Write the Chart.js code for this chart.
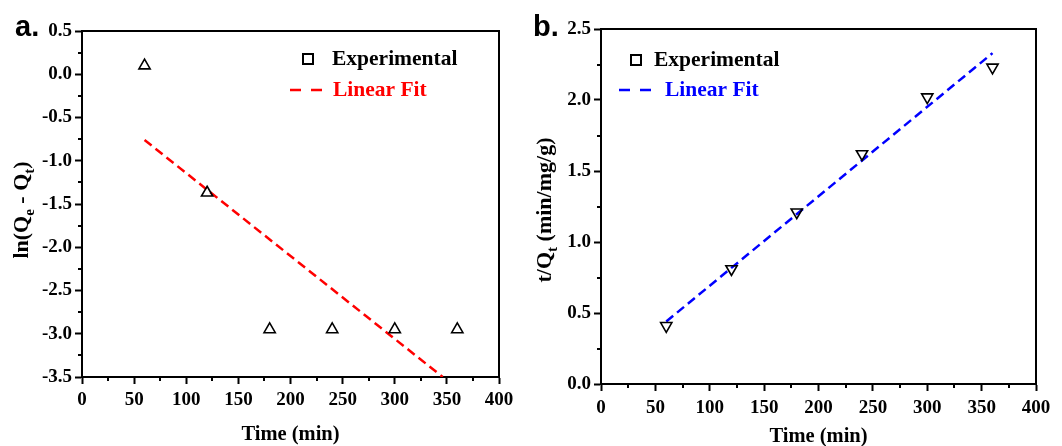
<!DOCTYPE html>
<html>
<head>
<meta charset="utf-8">
<script src="https://cdn.jsdelivr.net/npm/chart.js@4"></script>
<style>
  body { margin: 0; background: #fff; width: 1062px; height: 446px; overflow: hidden; position: relative; }
  .panel { position: absolute; top: 0; width: 531px; height: 446px; }
</style>
</head>
<body>
<div class="panel" style="left:0"><canvas id="chartA" width="531" height="446"></canvas></div>
<div class="panel" style="left:531px"><canvas id="chartB" width="531" height="446"></canvas></div>
<script>
// data
var timeMin = [60, 120, 180, 240, 300, 360];
var lnQeQt = [0.10, -1.37, -2.95, -2.95, -2.95, -2.95];   // panel a, pseudo-first-order
var tOverQt = [0.41, 0.81, 1.21, 1.62, 2.02, 2.23];       // panel b, pseudo-second-order
var fitATime = [60, 346];
var fitAValues = [-0.76, -3.5];
var fitBTime = [60, 360];
var fitBValues = [0.44, 2.33];
var seriesLabels = ['Experimental', 'Linear Fit'];

var serif = "'Liberation Serif', 'Times New Roman', serif";

function pairs(xs, ys) {
    return xs.map(function (x, i) { return { x: x, y: ys[i] }; });
}

// rotated y title with subscripts
function drawRich(ctx, parts, size, bx, cy) {
    var big = 'bold ' + size + 'px ' + serif;
    var small = 'bold ' + Math.round(size * 0.68) + 'px ' + serif;
    ctx.save();
    ctx.translate(bx, cy);
    ctx.rotate(-Math.PI / 2);
    var w = 0;
    parts.forEach(function (p) {
        ctx.font = p.sub ? small : big;
        p.w = ctx.measureText(p.t).width;
        w += p.w;
    });
    var x = -w / 2;
    ctx.textAlign = 'left';
    ctx.textBaseline = 'alphabetic';
    ctx.fillStyle = '#000';
    parts.forEach(function (p) {
        ctx.font = p.sub ? small : big;
        ctx.fillText(p.t, x, p.sub ? size * 0.25 : 0);
        x += p.w;
    });
    ctx.restore();
}

var decorPlugin = {
    id: 'decor',
    afterDraw: function (chart) {
        var o = chart.options.plugins.decor;
        var ctx = chart.ctx, a = chart.chartArea;
        var xs = chart.scales.x, ys = chart.scales.y;
        ctx.save();
        ctx.strokeStyle = '#000';
        ctx.lineWidth = 2;
        // top and right frame
        ctx.beginPath();
        ctx.moveTo(a.left - 1, a.top);
        ctx.lineTo(a.right, a.top);
        ctx.lineTo(a.right, a.bottom + 1);
        ctx.stroke();
        // minor ticks
        ctx.beginPath();
        for (var v = xs.min + o.xMinor; v < xs.max; v += 2 * o.xMinor) {
            var px = Math.round(xs.getPixelForValue(v));
            ctx.moveTo(px, a.bottom);
            ctx.lineTo(px, a.bottom + 4);
        }
        for (var w = ys.min + o.yMinor; w < ys.max; w += 2 * o.yMinor) {
            var py = Math.round(ys.getPixelForValue(w));
            ctx.moveTo(a.left, py);
            ctx.lineTo(a.left - 4, py);
        }
        ctx.stroke();

        // x title
        ctx.fillStyle = '#000';
        ctx.font = 'bold 20.5px ' + serif;
        ctx.textAlign = 'center';
        ctx.textBaseline = 'middle';
        ctx.fillText('Time (min)', (a.left + a.right) / 2, a.bottom + o.xTitleOff);

        // y title
        drawRich(ctx, o.yTitle, 22, o.yTitleBase, o.yTitleY);

        // panel letter
        ctx.font = 'bold 29px "Liberation Sans", Arial, sans-serif';
        ctx.textAlign = 'left';
        ctx.textBaseline = 'alphabetic';
        ctx.fillText(o.letter, o.letterX, 36);

        // legend
        var lg = o.legend;
        ctx.lineWidth = 2;
        ctx.setLineDash([]);
        ctx.strokeRect(lg.markX - 5, lg.y1 - 5, 10, 10);
        ctx.font = 'bold 21.5px ' + serif;
        ctx.textBaseline = 'middle';
        ctx.fillText(chart.data.datasets[0].label, lg.textX, lg.y1);
        var fitColor = chart.data.datasets[1].borderColor;
        ctx.strokeStyle = fitColor;
        ctx.lineWidth = 2.5;
        ctx.beginPath();
        ctx.moveTo(lg.lineX, lg.y2); ctx.lineTo(lg.lineX + 11, lg.y2);
        ctx.moveTo(lg.lineX + 21, lg.y2); ctx.lineTo(lg.lineX + 32, lg.y2);
        ctx.stroke();
        ctx.fillStyle = fitColor;
        ctx.fillText(chart.data.datasets[1].label, lg.fitTextX, lg.y2);
        ctx.restore();
    }
};

function makeChart(id, cfg) {
    var tickFont = { family: serif, size: 19, weight: 'bold' };
    return new Chart(document.getElementById(id), {
        type: 'scatter',
        data: {
            datasets: [{
                label: seriesLabels[0],
                data: cfg.points,
                pointStyle: 'triangle',
                rotation: cfg.rotation,
                pointRadius: 6.5,
                pointHoverRadius: 6.5,
                borderColor: '#000',
                backgroundColor: 'rgba(0,0,0,0)',
                pointBorderWidth: 1.6,
                showLine: false,
                order: 1
            }, {
                label: seriesLabels[1],
                data: cfg.fit,
                showLine: true,
                borderColor: cfg.color,
                borderWidth: 2.5,
                borderDash: [9, 5],
                pointRadius: 0,
                fill: false,
                order: 2
            }]
        },
        options: {
            responsive: false,
            animation: false,
            layout: { padding: { left: 0, top: cfg.top, right: cfg.right, bottom: 0 } },
            plugins: {
                legend: { display: false },
                tooltip: { enabled: false },
                decor: cfg.decor
            },
            scales: {
                x: {
                    type: 'linear',
                    min: 0, max: 400,
                    afterFit: function (s) { s.height = cfg.xHeight; },
                    ticks: { stepSize: 50, font: tickFont, color: '#000', padding: cfg.xPad, maxRotation: 0 },
                    grid: { drawOnChartArea: false, drawTicks: true, tickLength: 7, tickWidth: 2, tickColor: '#000' },
                    border: { display: true, color: '#000', width: 2 }
                },
                y: {
                    type: 'linear',
                    min: cfg.yMin, max: cfg.yMax,
                    afterFit: function (s) { s.width = cfg.yWidth; },
                    ticks: {
                        stepSize: 0.5, font: tickFont, color: '#000', padding: 3,
                        callback: function (v) { return v.toFixed(1); }
                    },
                    grid: { drawOnChartArea: false, drawTicks: true, tickLength: 7, tickWidth: 2, tickColor: '#000' },
                    border: { display: true, color: '#000', width: 2 }
                }
            }
        },
        plugins: [decorPlugin]
    });
}

makeChart('chartA', {
    points: pairs(timeMin, lnQeQt),
    fit: pairs(fitATime, fitAValues),
    rotation: 0,
    color: '#ff0000',
    yMin: -3.5, yMax: 0.5,
    top: 31, right: 32, xHeight: 69, yWidth: 82, xPad: 5,
    decor: {
        xMinor: 25, yMinor: 0.25, xTitleOff: 58,
        yTitle: [{ t: 'ln(Q' }, { t: 'e', sub: true }, { t: ' - Q' }, { t: 't', sub: true }, { t: ')' }],
        yTitleBase: 28, yTitleY: 210,
        letter: 'a.', letterX: 15,
        legend: { markX: 308, y1: 59, textX: 332, lineX: 290, y2: 90, fitTextX: 333 }
    }
});

makeChart('chartB', {
    points: pairs(timeMin, tOverQt),
    fit: pairs(fitBTime, fitBValues),
    rotation: 180,
    color: '#0000ff',
    yMin: 0, yMax: 2.5,
    top: 29, right: 26, xHeight: 62, yWidth: 70, xPad: 6,
    decor: {
        xMinor: 25, yMinor: 0.25, xTitleOff: 53,
        yTitle: [{ t: 't/Q' }, { t: 't', sub: true }, { t: ' (min/mg/g)' }],
        yTitleBase: 20, yTitleY: 210,
        letter: 'b.', letterX: 2,
        legend: { markX: 105, y1: 60, textX: 123, lineX: 88, y2: 90, fitTextX: 134 }
    }
});
</script>
</body>
</html>
